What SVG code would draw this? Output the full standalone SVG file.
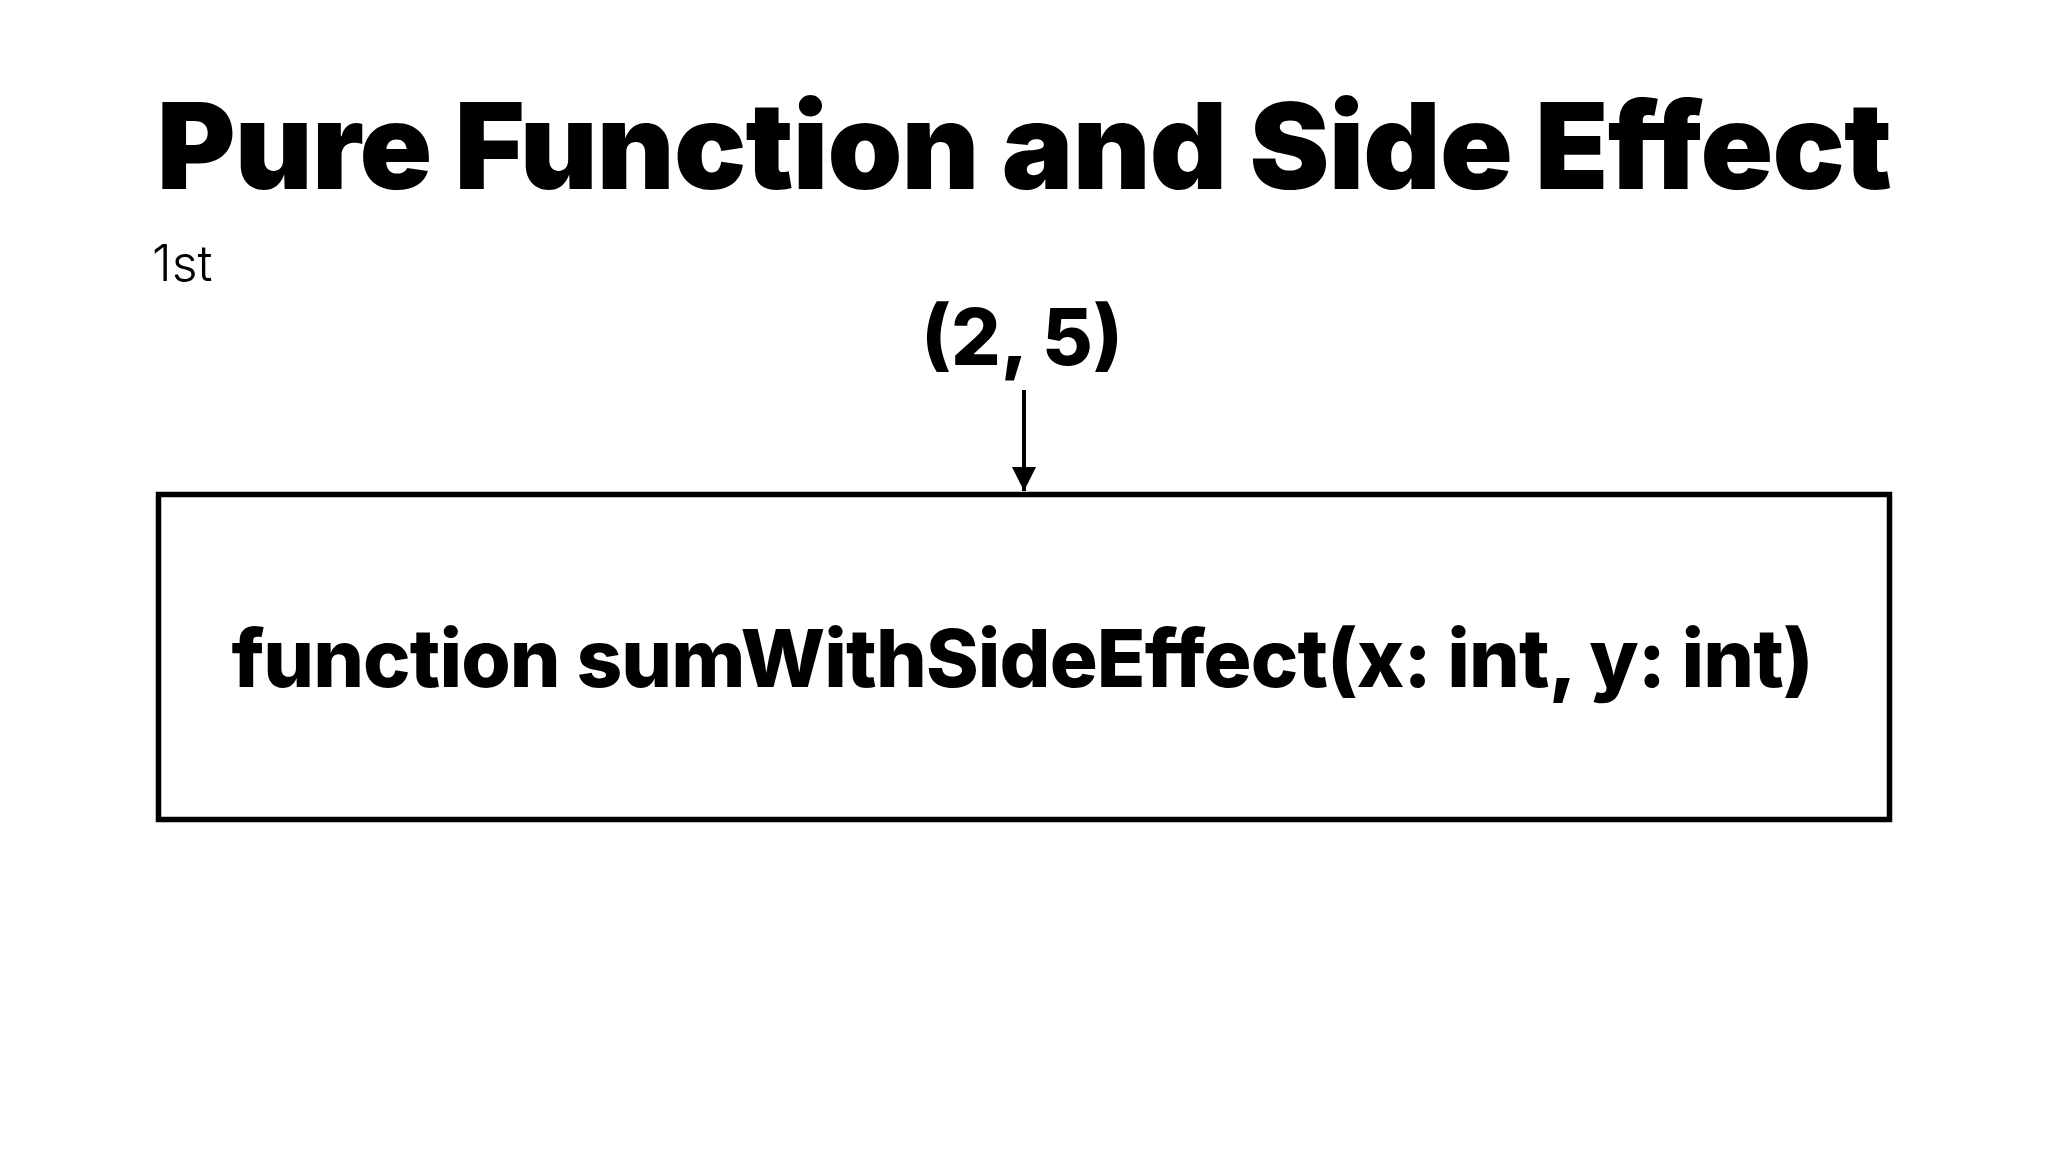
<svg xmlns="http://www.w3.org/2000/svg" width="2048" height="1152" viewBox="0 0 2048 1152">
<style>
.t{font-family:Inter,"Noto Sans","Liberation Sans",sans-serif;fill:#000}
.title{font-size:120px;font-weight:900;letter-spacing:-0.8px}
.sub{font-size:50px;font-weight:300}
.arg{font-size:78px;font-weight:800}
.fn{font-size:80px;font-weight:800;letter-spacing:-0.9px}
.box{fill:#fff;stroke:#000;stroke-width:5.5}
.conn{stroke:#000;stroke-width:4;fill:none}
</style>
<defs>
<marker id="ah" markerUnits="userSpaceOnUse" markerWidth="26" markerHeight="26" refX="24" refY="12" orient="auto">
<path d="M0,0 L24,12 L0,24 Z" fill="#000"/>
</marker>
</defs>
<rect width="2048" height="1152" fill="#fff"/>
<g id="title"><text class="t title" x="1024" y="189" text-anchor="middle">Pure Function and Side Effect</text></g>
<g id="subtitle"><text class="t sub" x="152" y="281">1st</text></g>
<g id="input"><text class="t arg" x="1022" y="365" text-anchor="middle">(2, 5)</text></g>
<g id="function">
<rect class="box" x="158.5" y="494.5" width="1731" height="325"/>
<text class="t fn" x="1022" y="687" text-anchor="middle">function sumWithSideEffect(x: int, y: int)</text>
</g>
<g id="connectors">
<line class="conn" x1="1024" y1="390" x2="1024" y2="491" marker-end="url(#ah)"/>
</g>
</svg>
